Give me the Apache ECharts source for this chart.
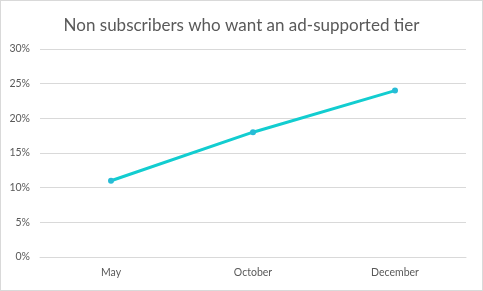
<!DOCTYPE html>
<html><head><meta charset="utf-8">
<script src="https://cdn.jsdelivr.net/npm/echarts@6/dist/echarts.min.js"></script>
<style>html,body{margin:0;padding:0;background:#fff}#c{width:483px;height:291px;box-sizing:border-box;border:1px solid #d9d9d9}</style>
</head><body><div id="c"></div>
<script>
var titleText = "Non subscribers who want an ad-supported tier";
var categories = ["May", "October", "December"];
var values = [11, 18, 24];
var yTicks = [0, 5, 10, 15, 20, 25, 30];

var chart = echarts.init(document.getElementById('c'), null, {renderer: 'canvas'});
chart.setOption({
  animation: false,
  title: {text: titleText, left: 'center', top: 11,
    textStyle: {fontFamily: 'Lato', fontWeight: 'normal', fontSize: 17, color: '#595959'}},
  grid: {left: 39, right: 16, top: 48, bottom: 33},
  xAxis: {type: 'category', data: categories, boundaryGap: true,
    axisLine: {show: true, lineStyle: {color: '#d9d9d9'}}, axisTick: {show: false},
    axisLabel: {color: '#595959', fontSize: 10.5, fontFamily: 'Lato', margin: 10}},
  yAxis: {type: 'value', min: yTicks[0], max: yTicks[yTicks.length-1], interval: 5,
    axisLine: {show: false}, axisTick: {show: false},
    splitLine: {lineStyle: {color: '#d9d9d9'}},
    axisLabel: {color: '#595959', fontSize: 10.5, fontFamily: 'Lato', margin: 10, formatter: '{value}%'}},
  series: [{type: 'line', data: values, symbol: 'circle', symbolSize: 6,
    lineStyle: {color: '#12CDD0', width: 3},
    itemStyle: {color: '#28BCD6'}}]
});
</script></body></html>
